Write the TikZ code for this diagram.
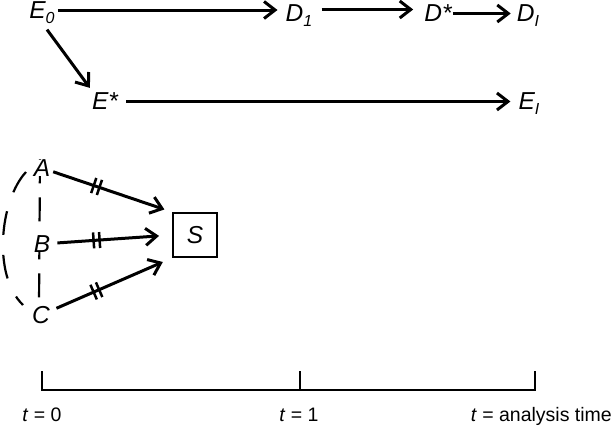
\documentclass[tikz,border=0pt]{standalone}
\usepackage{fontspec}
\setmainfont{Liberation Sans}
\usetikzlibrary{arrows.meta,decorations.markings,backgrounds}
\newcommand\mysub[1]{\smash{\raisebox{-5pt}{\fontsize{16}{16}\selectfont #1}}}
\begin{document}
\begin{tikzpicture}[x=1pt,y=-1pt,
  letter/.style={inner sep=0pt, font=\fontsize{24.5}{24.5}\selectfont\itshape},
  arr/.style={line width=3pt, -{Straight Barb[length=11pt,width=17pt]}},
  tickmark/.style={-, line width=2.5pt, shorten <=0pt, shorten >=0pt},
  ticked/.style={postaction={decorate}, decoration={markings, mark=at position 0.38 with {\draw[tickmark] (-3pt,-8pt) -- (-3pt,8pt); \draw[tickmark] (3pt,-8pt) -- (3pt,8pt);}}},
  dashline/.style={line width=2.2pt, dash pattern=on 24pt off 14pt},
  dasharc/.style={line width=2.2pt, dash pattern=on 24pt off 20pt},
  tl/.style={line width=2.4pt},
  lab/.style={inner sep=0pt, font=\fontsize{19.5}{20}\selectfont}
]
\useasboundingbox (0,0) rectangle (612,431);

% top row
\node[letter] (E0) at (42,10) {E\mysub{0}};
\node[letter] (D1) at (299,13.5) {D\mysub{1}};
\node[letter] (Ds) at (438,13.5) {D*};
\node[letter] (DI) at (528,13.5) {D\mysub{I}};
\node[letter] (Es) at (105,101.5) {E*};
\node[letter] (EI) at (529,101.5) {E\mysub{I}};

\draw[arr] ([xshift=3pt]E0.east) -- ([xshift=-8pt]D1.west |- E0.east);
\draw[arr] ([xshift=9pt,yshift=4pt]D1.east) -- ([xshift=-11pt,yshift=4pt]Ds.west);
\draw[arr] ([xshift=1pt]Ds.east) -- ([xshift=-6pt]DI.west);
\draw[arr] ([xshift=5pt,yshift=-11pt]E0.south) -- ([xshift=-2pt,yshift=5pt]Es.north west);
\draw[arr] ([xshift=8pt]Es.east) -- ([xshift=-8pt]EI.west);

% lower group
\node[letter, fill=white] (A) at (42,168) {A};
\node[letter, fill=white] (B) at (42,244) {B};
\node[letter, fill=white] (C) at (41,315) {C};
\node[letter, draw, line width=2pt, minimum size=44pt] (S) at (195,235) {S};

\begin{scope}[on background layer]
\draw[dashline] ([xshift=-2pt]A.north) -- ([xshift=-2pt]C.north);
\end{scope}
\coordinate (arcA) at (26,172);
\coordinate (arcC) at (23,305);
\draw[dasharc] (arcA) .. controls (0,200) and (-8,275) .. (arcC);

\draw[arr, ticked, shorten <=3pt, shorten >=8pt] (A) -- (S.north west);
\draw[arr, ticked, shorten <=7pt, shorten >=13pt] (B) -- (S.west);
\draw[arr, ticked, shorten <=7pt, shorten >=10pt] (C) -- (S.south west);

% timeline
\coordinate (T0) at (42,390);
\coordinate (T1) at (300,390);
\coordinate (T2) at (535,390);
\draw[tl] ([yshift=19pt]T0) -- (T0) -- (T2) -- ([yshift=19pt]T2);
\draw[tl] (T1) -- ([yshift=19pt]T1);
\node[lab, anchor=base] (L0) at (42,421) {\textit{t} = 0};
\node[lab, anchor=base] (L1) at (299,421) {\textit{t} = 1};
\node[lab, anchor=base east] (L2) at (612,421) {\textit{t} = analysis time};
\end{tikzpicture}
\end{document}
